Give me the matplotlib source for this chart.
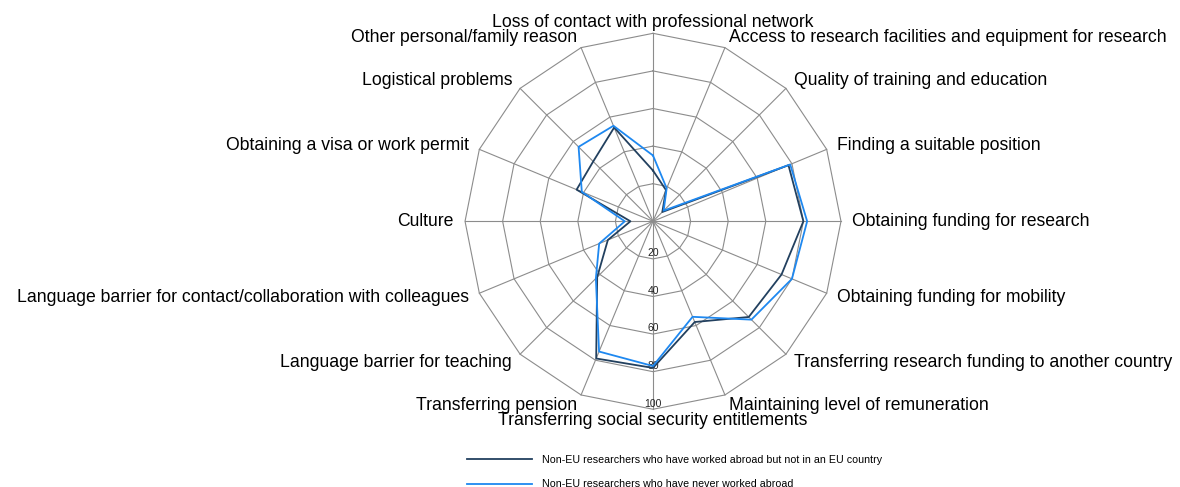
import numpy as np
import matplotlib.pyplot as plt

plt.rcParams['font.family'] = ['Liberation Sans', 'DejaVu Sans']

categories = [
    'Loss of contact with professional network',
    'Access to research facilities and equipment for research',
    'Quality of training and education',
    'Finding a suitable position',
    'Obtaining funding for research',
    'Obtaining funding for mobility',
    'Transferring research funding to another country',
    'Maintaining level of remuneration',
    'Transferring social security entitlements',
    'Transferring pension',
    'Language barrier for teaching',
    'Language barrier for contact/collaboration with colleagues',
    'Culture',
    'Obtaining a visa or work permit',
    'Logistical problems',
    'Other personal/family reason',
]
worked_abroad_not_eu = [27, 18, 7, 78, 80, 74, 72, 58, 78, 79, 42, 26, 12, 44, 45, 54]
never_worked_abroad = [35, 19, 8, 79, 82, 80, 74, 55, 77, 75, 43, 31, 15, 41, 56, 55]
ring_values = [20, 40, 60, 80, 100]
series_names = [
    'Non-EU researchers who have worked abroad but not in an EU country',
    'Non-EU researchers who have never worked abroad',
]

n = len(categories)
angles = np.linspace(0, 2 * np.pi, n, endpoint=False)
closed = np.append(angles, angles[0])

fig = plt.figure(figsize=(11.8, 4.87), dpi=100)
ax = fig.add_axes([0.3941, 0.1596, 0.3186, 0.772], projection='polar')
ax.set_theta_zero_location('N')
ax.set_theta_direction(-1)
ax.set_ylim(0, 100)
ax.grid(False)
ax.spines['polar'].set_visible(False)
ax.set_xticks([])
ax.set_yticks([])
ax.patch.set_visible(False)

# polygon grid
grid_col = '#8c8c8c'
for r in ring_values:
    ax.plot(closed, [r] * (n + 1), color=grid_col, lw=0.8, zorder=1, clip_on=False)
for a in angles:
    ax.plot([a, a], [0, 100], color=grid_col, lw=0.8, zorder=1, clip_on=False)

# radial tick labels along the bottom spoke
for r in ring_values:
    ax.text(np.pi, r - 3, str(r), ha='center', va='center', fontsize=7.5,
            color='#222222', zorder=2)

# category labels
for a, lab in zip(angles, categories):
    s = np.sin(a)
    if abs(s) < 0.01:
        ha = 'center'
    elif s > 0:
        ha = 'left'
    else:
        ha = 'right'
    ax.text(a, 106, lab, ha=ha, va='center', fontsize=12.7, color='black',
            clip_on=False)

l1, = ax.plot(closed, worked_abroad_not_eu + worked_abroad_not_eu[:1],
              color='#22405f', lw=1.3, zorder=3)
l2, = ax.plot(closed, never_worked_abroad + never_worked_abroad[:1],
              color='#1e88f0', lw=1.3, zorder=4)

fig.legend([l1, l2], series_names, loc='upper left',
           bbox_to_anchor=(0.3958, 0.066), frameon=False, fontsize=7.7,
           handlelength=6.1, handletextpad=0.93, labelspacing=1.35,
           borderaxespad=0, borderpad=0)

fig.savefig('out.png', dpi=100)
